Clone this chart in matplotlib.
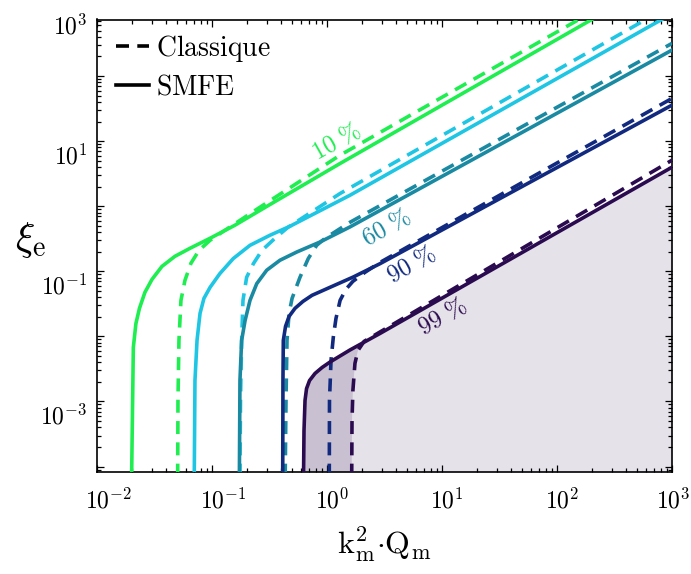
import matplotlib
matplotlib.use("Agg")
import matplotlib.pyplot as plt
from matplotlib.ticker import LogLocator, NullFormatter
from matplotlib.transforms import ScaledTranslation, blended_transform_factory
from matplotlib.lines import Line2D

plt.rcParams["mathtext.fontset"] = "cm"
plt.rcParams["font.family"] = ["DejaVu Serif"]

# ---- iso-efficiency contours: (k_m^2 * Q_m, xi_e) ----
smfe_10_k2q = [0.0200, 0.0203, 0.0207, 0.0218, 0.0234, 0.0261, 0.0301, 0.0367, 0.0476, 0.0644, 0.0962, 0.158, 0.301, 1.30, 210]
smfe_10_xi = [7e-5, 0.00051, 0.00678, 0.0158, 0.0270, 0.0475, 0.0753, 0.119, 0.170, 0.226, 0.322, 0.510, 1.0, 4.54, 775]
classic_10_k2q = [0.0503, 0.0506, 0.0516, 0.0537, 0.0582, 0.0656, 0.0771, 0.0962, 0.122, 0.261, 1.30, 160]
classic_10_xi = [7e-5, 0.00104, 0.00868, 0.0358, 0.0727, 0.133, 0.210, 0.300, 0.398, 0.965, 6.09, 764]

smfe_30_k2q = [0.0701, 0.0711, 0.0741, 0.0787, 0.0851, 0.0962, 0.117, 0.153, 0.214, 0.319, 0.476, 1.585, 880]
smfe_30_xi = [7e-5, 0.00210, 0.00868, 0.0226, 0.0384, 0.0567, 0.0922, 0.157, 0.251, 0.358, 0.492, 1.476, 800]
classic_30_k2q = [0.175, 0.177, 0.181, 0.186, 0.200, 0.229, 0.272, 0.353, 0.458, 1.30, 640]
classic_30_xi = [7e-5, 0.00104, 0.00868, 0.0358, 0.0809, 0.131, 0.210, 0.322, 0.475, 1.57, 800]

smfe_60_k2q = [0.173, 0.175, 0.181, 0.194, 0.214, 0.245, 0.299, 0.390, 0.546, 0.869, 1.585, 1000]
smfe_60_xi = [7e-5, 0.00210, 0.00868, 0.0176, 0.0358, 0.0647, 0.104, 0.148, 0.198, 0.282, 0.481, 251]
classic_60_k2q = [0.433, 0.440, 0.449, 0.468, 0.497, 0.582, 0.687, 0.813, 0.962, 1.585, 1000]
classic_60_xi = [7e-5, 0.00104, 0.00868, 0.0226, 0.0384, 0.0809, 0.157, 0.251, 0.322, 0.567, 318]

smfe_90_k2q = [0.412, 0.414, 0.417, 0.436, 0.468, 0.527, 0.618, 0.741, 1.06, 1.69, 2.89, 1000]
smfe_90_xi = [7e-5, 0.00210, 0.00868, 0.0143, 0.0203, 0.0270, 0.0345, 0.0428, 0.0567, 0.0817, 0.131, 35.8]
classic_90_k2q = [1.047, 1.051, 1.084, 1.135, 1.197, 1.30, 1.46, 1.68, 2.14, 2.89, 1000]
classic_90_xi = [7e-5, 0.00104, 0.00428, 0.00976, 0.0189, 0.0358, 0.0529, 0.0702, 0.0966, 0.137, 45.4]

smfe_99_k2q = [0.625, 0.631, 0.644, 0.664, 0.705, 0.787, 0.906, 1.06, 1.585, 2.89, 1000]
smfe_99_xi = [7e-5, 0.000358, 0.00104, 0.00158, 0.00210, 0.00270, 0.00333, 0.00403, 0.00619, 0.0111, 3.98]
classic_99_k2q = [1.64, 1.65, 1.68, 1.75, 1.86, 2.10, 2.89, 1000]
classic_99_xi = [7e-5, 0.000510, 0.00148, 0.00385, 0.00609, 0.00838, 0.0117, 5.1]

colors = ["#1fee50", "#1ec6e4", "#1a8aa2", "#112a80", "#2b0b4f"]

# curve labels: text, anchor (k2Q, xi)
label_texts = [r"$10\ \%$", r"$60\ \%$", r"$90\ \%$", r"$99\ \%$"]
label_k2q = [1.20, 3.32, 5.48, 10.0]
label_xi = [9.65, 0.475, 0.128, 0.0203]
label_colors = [colors[0], colors[2], colors[3], colors[4]]

X_MIN, X_MAX = 1e-2, 1e3
Y_MIN, Y_MAX = 8.4e-5, 740

fig = plt.figure(figsize=(6.91, 5.74), dpi=100)
ax = fig.add_axes([97 / 691, 1 - 471.5 / 574, 575 / 691, 452 / 574])
ax.set_xscale("log")
ax.set_yscale("log")
ax.set_xlim(X_MIN, X_MAX)
ax.set_ylim(Y_MIN, Y_MAX)

# shaded 99 % regions
y_floor = 7e-5
ax.fill(smfe_99_k2q + [X_MAX * 2, X_MAX * 2], smfe_99_xi + [smfe_99_xi[-1], y_floor],
        color=colors[4], alpha=0.25, lw=0, zorder=1)
ax.fill(classic_99_k2q + [X_MAX * 2, X_MAX * 2], classic_99_xi + [classic_99_xi[-1], y_floor],
        color="white", alpha=0.55, lw=0, zorder=1.1)

lw = 2.6
dash = (3.6, 2.3)
curves = [
    (smfe_10_k2q, smfe_10_xi, classic_10_k2q, classic_10_xi),
    (smfe_30_k2q, smfe_30_xi, classic_30_k2q, classic_30_xi),
    (smfe_60_k2q, smfe_60_xi, classic_60_k2q, classic_60_xi),
    (smfe_90_k2q, smfe_90_xi, classic_90_k2q, classic_90_xi),
    (smfe_99_k2q, smfe_99_xi, classic_99_k2q, classic_99_xi),
]
for (sx, sy, cx, cy), c in zip(curves, colors):
    ax.plot(cx, cy, color=c, lw=lw, dashes=dash, zorder=3)
    ax.plot(sx, sy, color=c, lw=lw, zorder=3.1)

for t, x, y, c in zip(label_texts, label_k2q, label_xi, label_colors):
    ax.text(x, y, t, color=c, fontsize=17.5, rotation=29.5, ha="center", va="center",
            rotation_mode="anchor", zorder=4)

# ticks
ax.set_xticks([1e-2, 1e-1, 1e0, 1e1, 1e2, 1e3])
ax.set_xticklabels([r"$10^{-2}$", r"$10^{-1}$", r"$10^{0}$", r"$10^{1}$", r"$10^{2}$", r"$10^{3}$"],
                   fontsize=17, ha="left")
ax.set_yticks([1e-4, 1e-3, 1e-2, 1e-1, 1e0, 1e1, 1e2])
ax.set_yticklabels(["", r"$10^{-3}$", "", r"$10^{-1}$", "", r"$10^{1}$", ""], fontsize=17, va="top")
ax.xaxis.set_minor_locator(LogLocator(base=10, subs=range(2, 10), numticks=50))
ax.yaxis.set_minor_locator(LogLocator(base=10, subs=range(2, 10), numticks=50))
ax.xaxis.set_minor_formatter(NullFormatter())
ax.yaxis.set_minor_formatter(NullFormatter())
ax.tick_params(which="both", direction="in", top=True, right=True, width=0.9, color="black")
ax.tick_params(which="major", length=5)
ax.tick_params(which="minor", length=3)
ax.tick_params(axis="x", pad=12)
ax.tick_params(axis="y", pad=7)
for s in ax.spines.values():
    s.set_linewidth(1.2)

xlabels = ax.get_xticklabels()
for i, lab in enumerate(xlabels):
    shift = -0.12 if i < len(xlabels) - 1 else -0.16
    lab.set_transform(lab.get_transform() + ScaledTranslation(shift, 0, fig.dpi_scale_trans))
yoff = ScaledTranslation(0, -0.03, fig.dpi_scale_trans)
for lab in ax.get_yticklabels():
    lab.set_transform(lab.get_transform() + yoff)

# 10^3 label sits just above the top of the axes
top_tr = blended_transform_factory(ax.transAxes, ax.transData) + ScaledTranslation(-7 / 72, -0.03, fig.dpi_scale_trans)
ax.text(0, 1e3, r"$10^{3}$", transform=top_tr, ha="right", va="top", fontsize=17, clip_on=False)

# legend
handles = [Line2D([], [], color="black", lw=lw, dashes=dash),
           Line2D([], [], color="black", lw=lw)]
ax.legend(handles, [r"$\mathrm{Classique}$", r"$\mathrm{SMFE}$"], loc="upper left",
          frameon=False, fontsize=20, handlelength=1.2, handletextpad=0.25,
          labelspacing=0.35, borderaxespad=0.08, bbox_to_anchor=(0.01, 1.0))

fig.text(384 / 691, 1 - 545 / 574, r"$\mathrm{k_m^2{\cdot}Q_m}$", fontsize=23, ha="center", va="center")
fig.text(31 / 691, 1 - 240 / 574, r"$\xi_\mathrm{e}$", fontsize=29, ha="center", va="center")

fig.savefig("out.png", dpi=100)
